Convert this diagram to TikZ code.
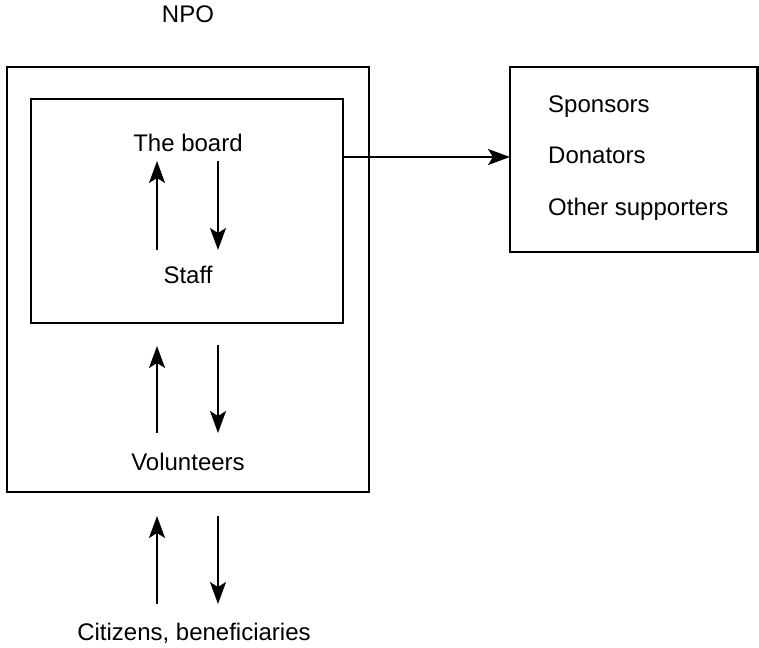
\documentclass[tikz,border=0pt]{standalone}
\usepackage{fontspec}
\setmainfont{Liberation Sans}
\usetikzlibrary{arrows.meta}
\tikzset{
  frame/.style={line width=2.8pt},
  flow/.style={line width=1.8pt, -{Stealth[length=22pt,width=16pt,inset=5pt]}},
  lbl/.style={font=\fontsize{24}{28}\selectfont, inner sep=0pt, anchor=base}
}
\begin{document}
\begin{tikzpicture}[x=1pt,y=-1pt]
		%%%%% START %%%%%
		\useasboundingbox (0,0) rectangle (759,647);
		
		\node[lbl] (npo) at (188,23) {NPO};
		
		% boxes
		\draw[frame] (7,67) rectangle (369,492);
		\draw[frame] (31,99) rectangle (343,323);
		\draw[frame] (510,67) rectangle (757.6,252);
		
		% labels
		\node[lbl] (board) at (188,151) {The board};
		\node[lbl] (staff) at (188,283) {Staff};
		\node[lbl] (volunteers) at (188,470) {Volunteers};
		\node[lbl] (citizens) at (194,640) {Citizens, beneficiaries};
		
		\node[lbl, anchor=base west] (sponsors) at (548,113) {Sponsors};
		\node[lbl, anchor=base west] (donators) at (548,164) {Donators};
		\node[lbl, anchor=base west] (others) at (548,215) {Other supporters};
		
		% arrow ends
		\coordinate (inner) at (343,157);
		\coordinate (ext) at (510,157);
		\coordinate (upA) at (157,250);   \coordinate (upB) at (157,161);
		\coordinate (dnA) at (218,161);   \coordinate (dnB) at (218,250);
		\coordinate (upC) at (157,433);   \coordinate (upD) at (157,346);
		\coordinate (dnC) at (218,345);   \coordinate (dnD) at (218,433);
		\coordinate (upE) at (157,604);   \coordinate (upF) at (157,516);
		\coordinate (dnE) at (218,516);   \coordinate (dnF) at (218,604);
		
		\draw[flow] (inner) -- (ext);
		
		\draw[flow] (upA) -- (upB);
		\draw[flow] (dnA) -- (dnB);
		
		\draw[flow] (upC) -- (upD);
		\draw[flow] (dnC) -- (dnD);
		
		\draw[flow] (upE) -- (upF);
		\draw[flow] (dnE) -- (dnF);
		
		%%%%% END %%%%%
\end{tikzpicture}
\end{document}
